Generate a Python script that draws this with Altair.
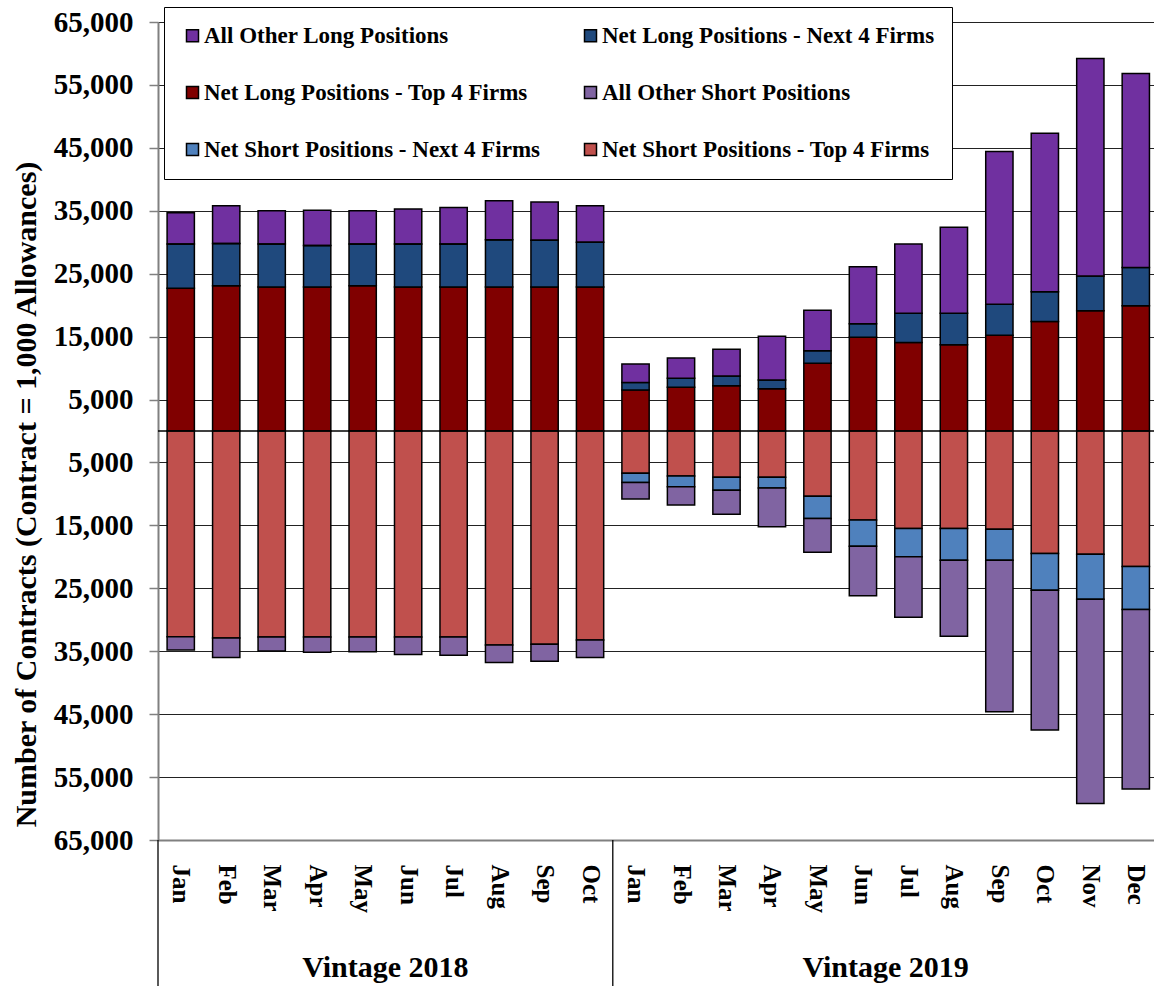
import altair as alt
import pandas as pd

# ---------------- data (contracts) ----------------
months_2018 = ["Jan", "Feb", "Mar", "Apr", "May", "Jun", "Jul", "Aug", "Sep", "Oct"]
months_2019 = ["Jan", "Feb", "Mar", "Apr", "May", "Jun", "Jul", "Aug", "Sep", "Oct", "Nov", "Dec"]

# long side (positive)
long_top4 = [22700, 23100, 22900, 22900, 23100, 22900, 22900, 22900, 22900, 22900,
             6500, 6950, 7200, 6700, 10750, 14900, 14050, 13700, 15200, 17400, 19100, 19900]
long_next4 = [7000, 6700, 6800, 6600, 6600, 6800, 6800, 7500, 7400, 7100,
              1200, 1450, 1550, 1400, 2000, 2150, 4650, 5000, 4950, 4750, 5550, 6100]
long_other = [5000, 6000, 5300, 5600, 5300, 5600, 5800, 6200, 6100, 5800,
              2950, 3200, 4250, 6950, 6450, 9050, 11000, 13700, 24250, 25150, 34550, 30800]

# short side (shown below zero)
short_top4 = [32700, 32900, 32750, 32750, 32750, 32750, 32750, 34000, 33900, 33200,
              6700, 7150, 7350, 7350, 10350, 14150, 15500, 15500, 15600, 19450, 19600, 21550]
short_next4 = [0, 0, 0, 0, 0, 0, 0, 0, 0, 0,
               1500, 1700, 2050, 1700, 3550, 4150, 4500, 5050, 4950, 5850, 7150, 6800]
short_other = [2100, 3100, 2200, 2400, 2350, 2750, 2900, 2800, 2700, 2800,
               2600, 2900, 3850, 6150, 5350, 7900, 9600, 12050, 24050, 22200, 32450, 28550]

AOL = "All Other Long Positions"
NLN = "Net Long Positions - Next 4 Firms"
NLT = "Net Long Positions - Top 4 Firms"
AOS = "All Other Short Positions"
NSN = "Net Short Positions - Next 4 Firms"
NST = "Net Short Positions - Top 4 Firms"

# legend is filled column by column: col 1 = AOL, NLT, NSN ; col 2 = NLN, AOS, NST
legend_order = [AOL, NLT, NSN, NLN, AOS, NST]
legend_colors = ["#7030A0", "#800000", "#4F81BD", "#1F497D", "#8064A2", "#C0504D"]

vintage_labels = ["Vintage 2018", "Vintage 2019"]
y_tick_values = [-65000, -55000, -45000, -35000, -25000, -15000, -5000,
                 5000, 15000, 25000, 35000, 45000, 55000, 65000]

# ---------------- build table ----------------
all_months = months_2018 + months_2019
n18 = len(months_2018)
n_all = len(all_months)

series_data = [
    (NLT, long_top4, 1, 0),
    (NLN, long_next4, 1, 1),
    (AOL, long_other, 1, 2),
    (NST, short_top4, -1, 0),
    (NSN, short_next4, -1, 1),
    (AOS, short_other, -1, 2),
]
rows = []
for name, vals, sign, order in series_data:
    for i, v in enumerate(vals):
        rows.append({"idx": i, "series": name, "value": sign * v, "ord": order})
df = pd.DataFrame(rows)

W, H = 996, 818
FONT = "Liberation Serif"
X_MAX = 21.9  # visible slots across the plot width (last bar near the right edge)

x_scale = alt.Scale(domain=[0, X_MAX], nice=False, zero=False)
y_scale = alt.Scale(domain=[-65000, 65000], nice=False, zero=False)
month_array = "[" + ",".join(f"'{m}'" for m in all_months) + "]"

x_axis = alt.Axis(
    title=None,
    values=[i + 0.5 for i in range(n_all)],
    labelExpr=month_array + "[floor(datum.value)]",
    labelAngle=90,
    labelAlign="left",
    labelBaseline="middle",
    labelFont=FONT,
    labelFontWeight="bold",
    labelFontSize=25,
    labelColor="black",
    labelPadding=24,
    labelFlush=False,
    labelOverlap=False,
    ticks=False,
    grid=False,
    domainColor="#808080",
    domainWidth=2,
)

y_axis = alt.Axis(
    values=y_tick_values,
    labelExpr="format(abs(datum.value), ',')",
    title="Number of Contracts (Contract = 1,000 Allowances)",
    titleFont=FONT,
    titleFontWeight="bold",
    titleFontSize=30,
    titleColor="black",
    titlePadding=12,
    titleY=472,
    labelFont=FONT,
    labelFontWeight="bold",
    labelFontSize=29,
    labelColor="black",
    labelPadding=16,
    tickSize=9,
    tickColor="#808080",
    tickWidth=1.5,
    domainColor="#808080",
    domainWidth=2,
    grid=True,
    gridColor="#222222",
    gridWidth=1.2,
)

bars = alt.Chart(df).transform_stack(
    stack="value",
    groupby=["idx"],
    as_=["y0", "y1"],
    sort=[alt.SortField("ord", order="ascending")],
    offset="zero",
).transform_calculate(
    x0="datum.idx + 0.2", x1="datum.idx + 0.8"
).mark_bar(stroke="black", strokeWidth=1.5).encode(
    x=alt.X("x0:Q", scale=x_scale, axis=x_axis),
    x2="x1:Q",
    y=alt.Y("y0:Q", scale=y_scale, axis=y_axis),
    y2="y1:Q",
    color=alt.Color(
        "series:N",
        scale=alt.Scale(domain=legend_order, range=legend_colors),
        legend=alt.Legend(
            title=None,
            orient="none",
            legendX=6,
            legendY=-15,
            columns=2,
            symbolType="square",
            symbolSize=144,
            symbolStrokeColor="black",
            symbolStrokeWidth=1.5,
            symbolOpacity=1,
            labelFont=FONT,
            labelFontWeight="bold",
            labelFontSize=23,
            labelColor="black",
            labelLimit=0,
            labelOffset=0,
            padding=17,
            rowPadding=33,
            columnPadding=38,
            fillColor="white",
            strokeColor="black",
        ),
    ),
)

zero_df = pd.DataFrame({"v": [0]})
zero_line = alt.Chart(zero_df).mark_rule(color="black", strokeWidth=1.5).encode(
    y=alt.Y("v:Q", scale=y_scale)
)

# group separators below the axis (left edge and between vintages)
sep_df = pd.DataFrame({"pos": [0, n18]})
sep_line = alt.Chart(sep_df).mark_rule(color="black", strokeWidth=1.3).encode(
    x=alt.X("pos:Q", scale=x_scale),
    y=alt.value(H),
    y2=alt.value(H + 146),
)

vint_df = pd.DataFrame({"pos": [n18 / 2, n18 + (n_all - n18) / 2], "label": vintage_labels})
vint_text = alt.Chart(vint_df).mark_text(
    font=FONT, fontWeight="bold", fontSize=30, color="black", baseline="middle", align="center"
).encode(
    x=alt.X("pos:Q", scale=x_scale),
    y=alt.value(H + 128),
    text="label:N",
)

chart = alt.layer(bars, zero_line, sep_line, vint_text).properties(
    width=W,
    height=H,
    autosize=alt.AutoSizeParams(type="none"),
    padding={"left": 158, "top": 22, "right": 0, "bottom": 146},
).configure_view(stroke=None).configure(background="white")

chart.save("out.html", embed_options={"renderer": "svg", "actions": False})
